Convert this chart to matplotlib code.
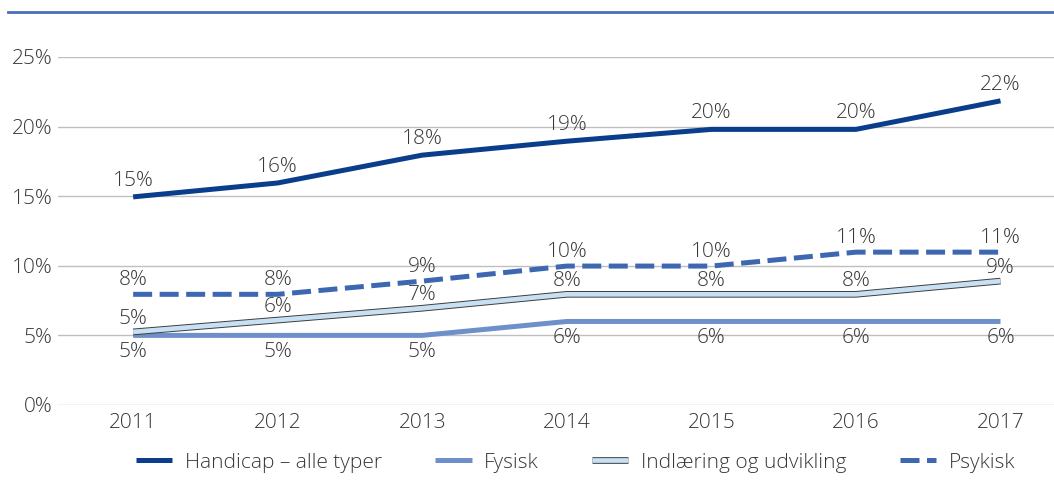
import numpy as np
import matplotlib.pyplot as plt
import matplotlib.patheffects as pe
from matplotlib.lines import Line2D

plt.rcParams['font.family'] = ['Open Sans', 'DejaVu Sans']
plt.rcParams['font.weight'] = 'light'

years = ["2011", "2012", "2013", "2014", "2015", "2016", "2017"]

# plotted values and the labels shown
handicap = [14.95, 15.95, 17.95, 18.95, 19.8, 19.8, 21.85]
handicap_lbl = ["15%", "16%", "18%", "19%", "20%", "20%", "22%"]
fysisk = [5.0, 5.0, 5.0, 6.0, 6.0, 6.0, 6.0]
fysisk_lbl = ["5%", "5%", "5%", "6%", "6%", "6%", "6%"]
indlaering = [5.25, 6.1, 6.95, 7.95, 7.95, 7.95, 8.9]
indlaering_lbl = ["5%", "6%", "7%", "8%", "8%", "8%", "9%"]
psykisk = [7.95, 7.95, 8.9, 9.98, 9.98, 10.98, 10.98]
psykisk_lbl = ["8%", "8%", "9%", "10%", "10%", "11%", "11%"]

c_hand = "#0a3d8b"
c_fys = "#6f8fcb"
c_ind = "#c7e0f3"
c_psy = "#3e67b2"
c_txt = "#383838"
fs = 15

fig = plt.figure(figsize=(10.54, 4.96), dpi=100)
ax = fig.add_axes([0.055, 0.1835, 0.945, 0.7016])
x = np.arange(len(years))

ax.plot(x, handicap, color=c_hand, lw=3.6, solid_capstyle="butt",
        label="Handicap \u2013 alle typer", zorder=4)
ax.plot(x, fysisk, color=c_fys, lw=3.6, solid_capstyle="butt",
        label="Fysisk", zorder=2)
ax.plot(x, indlaering, color=c_ind, lw=3.4, solid_capstyle="butt",
        label="Indl\u00e6ring og udvikling", zorder=3,
        path_effects=[pe.Stroke(linewidth=4.8, foreground="#3d3d3d"), pe.Normal()])
ax.plot(x, psykisk, color=c_psy, lw=3.6, linestyle=(0, (3.8, 1.5)),
        dash_capstyle="butt", label="Psykisk", zorder=3)


def labels(vals, lbls, dy):
    for xi, v, t in zip(x, vals, lbls):
        ax.annotate(t, (xi, v), xytext=(0, dy), textcoords="offset pixels",
                    ha="center", va="center", fontsize=fs, color=c_txt, zorder=6)


labels(handicap, handicap_lbl, 16)
labels(psykisk, psykisk_lbl, 14)
labels(indlaering, indlaering_lbl, 13)
labels(fysisk, fysisk_lbl, -17)

ax.set_xlim(-0.52, 6.37)
ax.set_ylim(0, 25)
ax.set_yticks(np.arange(0, 26, 5))
ax.set_yticklabels([f"{v}%" for v in range(0, 26, 5)])
ax.set_xticks(x)
ax.set_xticklabels(years)
ax.grid(axis="y", color="#bfbfbf", lw=1)
ax.set_axisbelow(True)
for s in ax.spines.values():
    s.set_visible(False)
ax.tick_params(length=0, labelsize=fs, labelcolor=c_txt)
ax.tick_params(axis="y", pad=4)
ax.tick_params(axis="x", pad=6)

# blue rule at the top
fig.add_artist(Line2D([0.008, 1.0], [0.975, 0.975], color="#4a6fb5", lw=2,
                      transform=fig.transFigure))

fig.legend(loc="center", bbox_to_anchor=(0.546, 0.067), ncol=4, frameon=False,
           fontsize=fs, handlelength=1.75, handletextpad=0.6,
           columnspacing=2.55, labelcolor=c_txt)

fig.savefig("out.png", dpi=100)
